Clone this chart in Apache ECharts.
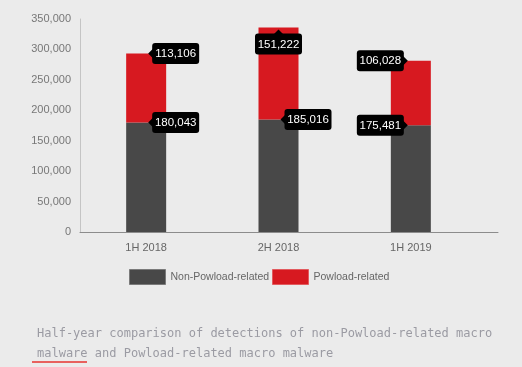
<!DOCTYPE html>
<html>
<head>
<meta charset="utf-8">
<script src="https://cdn.jsdelivr.net/npm/echarts@6/dist/echarts.min.js"></script>
<style>
html,body{margin:0;padding:0;background:#ebebeb;}
#chart{width:522px;height:367px;}
</style>
</head>
<body>
<div id="chart"></div>
<script>
const categories = ['1H 2018', '2H 2018', '1H 2019'];
const nonPowload = [180043, 185016, 175481];
const powload = [113106, 151222, 106028];
const seriesNames = ['Non-Powload-related', 'Powload-related'];
const yTickValues = [0, 50000, 100000, 150000, 200000, 250000, 300000, 350000];
const captionText = 'Half-year comparison of detections of non-Powload-related macro\nmalware and Powload-related macro malware';

const fmt = v => v.toLocaleString('en-US');
const FONT = '"Liberation Sans", Arial, sans-serif';

// label placement: per series, per category
const sides = [
  ['right', 'right', 'left'],
  ['right', 'below', 'left']
];

const labelData = [];
categories.forEach((c, i) => {
  labelData.push([i, nonPowload[i], nonPowload[i], 0]);
  labelData.push([i, nonPowload[i] + powload[i], powload[i], 1]);
});

function renderLabel(params, api) {
  const ci = api.value(0);
  const pt = api.coord([ci, api.value(1)]);
  const val = api.value(2);
  const si = api.value(3);
  const side = sides[si][ci];
  const w = 47, h = 21, a = 4;
  let bx, by, tri;
  const cx = pt[0], cy = pt[1];
  if (side === 'right') {
    const tip = cx + 2;
    bx = tip + a; by = cy - h / 2;
    tri = [[tip, cy], [bx + 1, cy - 5], [bx + 1, cy + 5]];
  } else if (side === 'left') {
    const tip = cx - 3;
    bx = tip - a - w; by = cy - h / 2;
    tri = [[tip, cy], [bx + w - 1, cy - 5], [bx + w - 1, cy + 5]];
  } else {
    const tip = cy + 2;
    bx = cx - w / 2; by = tip + a;
    tri = [[cx, tip], [cx - 5, by + 1], [cx + 5, by + 1]];
  }
  return {
    type: 'group',
    children: [
      { type: 'polygon', shape: { points: tri }, style: { fill: '#000' } },
      { type: 'rect', shape: { x: bx, y: by, width: w, height: h, r: 3 }, style: { fill: '#000' } },
      { type: 'text', style: { text: fmt(val), x: bx + w / 2, y: by + h / 2 + 0.5, fill: '#fff',
          font: '11.5px ' + FONT, align: 'center', verticalAlign: 'middle' } }
    ]
  };
}

const legendCommon = {
  top: 269, padding: 0,
  icon: 'rect',
  itemWidth: 36, itemHeight: 15, itemGap: 8,
  textStyle: { fontFamily: FONT, fontSize: 10.5, color: '#666', padding: [0, 0, 0, 0] }
};

const chart = echarts.init(document.getElementById('chart'), null, { renderer: 'canvas' });
chart.setOption({
  backgroundColor: '#ebebeb',
  animation: false,
  title: {
    text: captionText,
    left: 32, top: 319,
    textStyle: { fontFamily: '"DejaVu Sans Mono", monospace', fontSize: 12, fontWeight: 'normal',
      color: '#9b9ba3', lineHeight: 20 }
  },
  legend: [
    Object.assign({}, legendCommon, { data: [seriesNames[0]], left: 129,
      itemStyle: { borderColor: '#7a7a7a', borderWidth: 1 } }),
    Object.assign({}, legendCommon, { data: [seriesNames[1]], left: 272,
      itemStyle: { borderColor: '#e25a5e', borderWidth: 1 } })
  ],
  grid: [
    { left: 80, right: 45, top: 19, bottom: 135 },
    { left: 80, right: 24, top: 19, bottom: 135 }
  ],
  xAxis: [
    {
      type: 'category', gridIndex: 0, data: categories,
      axisLine: { show: false }, axisTick: { show: false },
      axisLabel: { margin: 10, fontFamily: FONT, fontSize: 11, color: '#666' }
    },
    {
      type: 'value', gridIndex: 1, min: 0, max: 1,
      axisLine: { show: true, lineStyle: { color: '#8c8c8c', width: 1 } },
      axisTick: { show: false }, axisLabel: { show: false }, splitLine: { show: false }
    }
  ],
  yAxis: [
    {
      type: 'value', gridIndex: 0, min: 0, max: 350000, interval: 50000,
      axisLine: { show: true, lineStyle: { color: '#c4c4c4', width: 1 } },
      axisTick: { show: false }, splitLine: { show: false },
      axisLabel: { margin: 9, fontFamily: FONT, fontSize: 11, color: '#777',
        formatter: v => yTickValues.includes(v) ? fmt(v) : '' }
    },
    { type: 'value', gridIndex: 1, show: false, min: 0, max: 1 }
  ],
  series: [
    {
      name: seriesNames[0], type: 'bar', stack: 'total', barWidth: 40,
      xAxisIndex: 0, yAxisIndex: 0,
      itemStyle: { color: '#484848' }, data: nonPowload
    },
    {
      name: seriesNames[1], type: 'bar', stack: 'total', barWidth: 40,
      xAxisIndex: 0, yAxisIndex: 0,
      itemStyle: { color: '#d71920' }, data: powload
    },
    {
      type: 'custom', xAxisIndex: 0, yAxisIndex: 0, renderItem: renderLabel,
      data: labelData, z: 10, silent: true
    }
  ],
  graphic: [
    { type: 'rect', left: 32, top: 361, shape: { width: 55, height: 2 }, style: { fill: '#e8615e' } }
  ]
});
</script>
</body>
</html>
